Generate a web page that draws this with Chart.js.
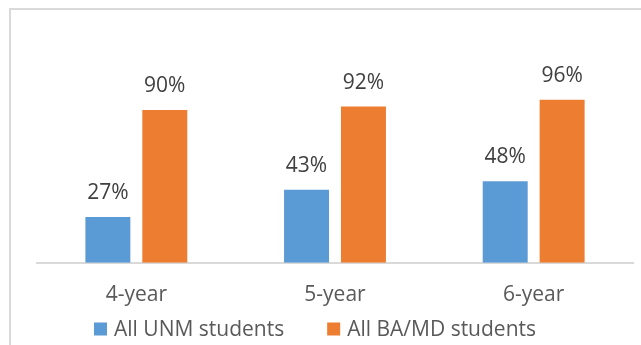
<!DOCTYPE html>
<html>
<head>
<meta charset="utf-8">
<script src="https://cdn.jsdelivr.net/npm/chart.js@4.4.1/dist/chart.umd.min.js"></script>
<style>
  html, body { margin: 0; padding: 0; background: #fff; overflow: hidden; }
  #wrap { position: relative; width: 641px; height: 345px; }
  #frame {
    position: absolute; left: 9px; top: 8px; width: 700px; height: 400px;
    border: 2px solid #d9d9d9; box-sizing: border-box;
  }
  #gradChart { position: absolute; left: 0; top: 0; }
</style>
</head>
<body>
<div id="wrap">
  <div id="frame"></div>
  <canvas id="gradChart" width="641" height="345"></canvas>
</div>
<script>
// Graduation rates by time to degree
const categories = ['4-year', '5-year', '6-year'];
const unmRates = [27, 43, 48];
const bamdRates = [90, 92, 96];
const seriesNames = ['All UNM students', 'All BA/MD students'];
const seriesColors = ['#5B9BD5', '#ED7D31'];

const FONT = '"Open Sans", sans-serif';

// Percent labels above each bar
const valueLabels = {
    id: 'valueLabels',
    afterDatasetsDraw(chart) {
        const ctx = chart.ctx;
        ctx.save();
        ctx.font = '21px ' + FONT;
        ctx.fillStyle = '#404040';
        ctx.textAlign = 'center';
        ctx.textBaseline = 'alphabetic';
        chart.data.datasets.forEach((ds, i) => {
            chart.getDatasetMeta(i).data.forEach((bar, j) => {
                ctx.fillText(ds.data[j] + '%', bar.x, bar.y - 18);
            });
        });
        ctx.restore();
    }
};

// Legend row under the axis labels
const bottomLegend = {
    id: 'bottomLegend',
    afterDraw(chart, args, opts) {
        const ctx = chart.ctx;
        const box = 13, textGap = 7, itemGap = 43;
        ctx.save();
        ctx.font = '21px ' + FONT;
        const items = chart.data.datasets.map(ds => ({
            label: ds.label,
            color: ds.backgroundColor,
            w: ctx.measureText(ds.label).width
        }));
        let total = 0;
        items.forEach((it, i) => {
            total += box + textGap + it.w + (i < items.length - 1 ? itemGap : 0);
        });
        let x = opts.centerX - total / 2;
        const y = opts.y;
        ctx.textBaseline = 'middle';
        ctx.textAlign = 'left';
        items.forEach(it => {
            ctx.fillStyle = it.color;
            ctx.fillRect(x, y - box / 2, box, box);
            x += box + textGap;
            ctx.fillStyle = '#595959';
            ctx.fillText(it.label, x, y + 1);
            x += it.w + itemGap;
        });
        ctx.restore();
    }
};

new Chart(document.getElementById('gradChart'), {
    type: 'bar',
    data: {
        labels: categories,
        datasets: [
            {
                label: seriesNames[0],
                data: unmRates,
                backgroundColor: seriesColors[0]
            },
            {
                label: seriesNames[1],
                data: bamdRates,
                backgroundColor: seriesColors[1]
            }
        ]
    },
    options: {
        responsive: false,
        animation: false,
        categoryPercentage: 0.573,
        barPercentage: 0.79,
        layout: {
            padding: { left: 37, right: 8, top: 59, bottom: 17 }
        },
        scales: {
            x: {
                grid: { display: false, drawTicks: false },
                border: { display: true, color: '#d9d9d9', width: 2 },
                ticks: {
                    color: '#595959',
                    padding: 20,
                    font: { family: FONT, size: 21 }
                }
            },
            y: {
                display: false,
                min: 0,
                max: 120
            }
        },
        plugins: {
            legend: { display: false },
            tooltip: { enabled: false },
            bottomLegend: { centerX: 315, y: 329 }
        }
    },
    plugins: [valueLabels, bottomLegend]
});
</script>
</body>
</html>
